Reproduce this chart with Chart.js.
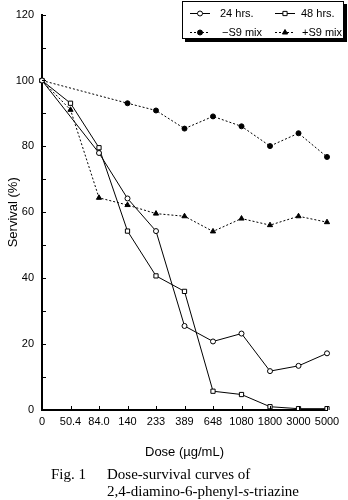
<!DOCTYPE html>
<html lang="en">
<head>
    <meta charset="UTF-8">
    <title>Dose-survival curves</title>
    <script src="https://cdn.jsdelivr.net/npm/chart.js"></script>
    <style>
        body {
            margin: 0;
            background: #ffffff;
        }
        #wrap {
            position: relative;
            width: 348px;
            height: 500px;
        }
        #caption {
            position: absolute;
            left: 51px;
            top: 466px;
            font-family: 'Liberation Serif', 'DejaVu Serif', serif;
            font-size: 15px;
            line-height: 17px;
            color: #000;
            white-space: nowrap;
        }
        #caption .fig {
            display: inline-block;
            width: 56px;
        }
        #caption .line2 {
            padding-left: 56px;
        }
    </style>
</head>
<body>
    <div id="wrap">
        <canvas id="myChart" width="348" height="500"></canvas>
        <div id="caption">
            <div><span class="fig">Fig. 1</span>Dose-survival curves of</div>
            <div class="line2">2,4-diamino-6-phenyl-<i>s</i>-triazine</div>
        </div>
    </div>

    <script>
        const doses = ['0', '50.4', '84.0', '140', '233', '389', '648', '1080', '1800', '3000', '5000'];
        const hrs24 = [100, null, 78.0, 64.2, 54.3, 25.5, 20.8, 23.2, 11.8, 13.4, 17.2];
        const hrs48 = [100, 93.1, 79.6, 54.3, 40.7, 36.0, 5.7, 4.7, 1.0, 0.4, 0.4];
        const minusS9 = [100, null, null, 93.1, 90.9, 85.4, 89.1, 86.1, 80.1, 84.0, 76.8];
        const plusS9 = [100, 91.1, 64.4, 62.2, 59.6, 58.8, 54.2, 58.1, 56.1, 58.8, 57.0];
        const seriesNames = ['24 hrs.', '48 hrs.', '\u2212S9 mix', '+S9 mix'];

        // inward tick marks on both axes
        const innerTicks = {
            id: 'innerTicks',
            afterDraw(chart) {
                const c = chart.ctx;
                const xs = chart.scales.x, ys = chart.scales.y;
                const area = chart.chartArea;
                c.save();
                c.strokeStyle = '#000';
                c.lineWidth = 1;
                c.beginPath();
                for (let v = 0; v <= 120; v += 10) {
                    const py = Math.round(ys.getPixelForValue(v)) + 0.5;
                    c.moveTo(area.left, py);
                    c.lineTo(area.left + 4, py);
                }
                for (let i = 0; i < doses.length; i++) {
                    const px = Math.round(xs.getPixelForValue(i)) + 0.5;
                    c.moveTo(px, area.bottom);
                    c.lineTo(px, area.bottom - 4);
                }
                c.stroke();
                c.restore();
            }
        };

        // boxed legend in the top right corner
        const boxLegend = {
            id: 'boxLegend',
            afterDraw(chart) {
                const c = chart.ctx;
                const x0 = 182, y0 = 1, w = 162, h = 38;
                c.save();
                c.fillStyle = '#000';
                c.fillRect(x0 + 3, y0 + 3, w, h);
                c.fillStyle = '#fff';
                c.fillRect(x0, y0, w, h);
                c.strokeStyle = '#000';
                c.lineWidth = 1;
                c.strokeRect(x0 + 0.5, y0 + 0.5, w - 1, h - 1);

                const spots = [[190, 13, 220], [275, 13, 301], [190, 32, 222], [275, 32, 302]];
                c.font = '11px "Liberation Sans", Arial, sans-serif';
                c.textBaseline = 'middle';
                chart.data.datasets.forEach((ds, i) => {
                    const [lx, ly, tx] = spots[i];
                    c.strokeStyle = '#000';
                    c.lineWidth = 1;
                    c.setLineDash(ds.borderDash || []);
                    c.beginPath();
                    c.moveTo(lx, ly + 0.5);
                    c.lineTo(lx + 20, ly + 0.5);
                    c.stroke();
                    c.setLineDash([]);
                    c.fillStyle = ds.pointBackgroundColor;
                    c.strokeStyle = '#000';
                    Chart.helpers.drawPoint(c, {
                        pointStyle: ds.pointStyle,
                        radius: ds.pointRadius,
                        borderWidth: 1
                    }, lx + 10, ly + 0.5);
                    c.fillStyle = '#000';
                    c.fillText(ds.label, tx, ly + 1);
                });
                c.restore();
            }
        };

        const ctx = document.getElementById('myChart').getContext('2d');
        const myChart = new Chart(ctx, {
            type: 'line',
            data: {
                labels: doses,
                datasets: [{
                    label: seriesNames[0],
                    data: hrs24,
                    borderColor: '#000',
                    borderWidth: 1,
                    pointStyle: 'circle',
                    pointRadius: 2.5,
                    pointBackgroundColor: '#fff',
                    pointBorderColor: '#000',
                    pointBorderWidth: 1
                }, {
                    label: seriesNames[1],
                    data: hrs48,
                    borderColor: '#000',
                    borderWidth: 1,
                    pointStyle: 'rect',
                    pointRadius: 3,
                    pointBackgroundColor: '#fff',
                    pointBorderColor: '#000',
                    pointBorderWidth: 1
                }, {
                    label: seriesNames[2],
                    data: minusS9,
                    borderColor: '#000',
                    borderWidth: 1,
                    borderDash: [2, 2],
                    pointStyle: 'circle',
                    pointRadius: 2.5,
                    pointBackgroundColor: '#000',
                    pointBorderColor: '#000',
                    pointBorderWidth: 1
                }, {
                    label: seriesNames[3],
                    data: plusS9,
                    borderColor: '#000',
                    borderWidth: 1,
                    borderDash: [2, 2],
                    pointStyle: 'triangle',
                    pointRadius: 3,
                    pointBackgroundColor: '#000',
                    pointBorderColor: '#000',
                    pointBorderWidth: 1
                }]
            },
            options: {
                responsive: false,
                animation: false,
                spanGaps: true,
                layout: {
                    padding: { top: 14, right: 21, left: 0, bottom: 0 }
                },
                plugins: {
                    legend: { display: false },
                    tooltip: { enabled: false }
                },
                scales: {
                    x: {
                        offset: false,
                        grid: { display: false, drawTicks: false },
                        border: { color: '#000', width: 2 },
                        ticks: {
                            color: '#000',
                            autoSkip: false,
                            maxRotation: 0,
                            padding: 5,
                            font: { family: '"Liberation Sans", Arial, sans-serif', size: 11 }
                        },
                        title: {
                            display: true,
                            text: 'Dose (\u00b5g/mL)',
                            color: '#000',
                            padding: { top: 0, bottom: 40 },
                            font: { family: '"Liberation Sans", Arial, sans-serif', size: 13 }
                        },
                        afterFit(scale) { scale.height = 90; }
                    },
                    y: {
                        min: 0,
                        max: 120,
                        grid: { display: false, drawTicks: false },
                        border: { color: '#000', width: 2 },
                        ticks: {
                            stepSize: 20,
                            color: '#000',
                            padding: 8,
                            font: { family: '"Liberation Sans", Arial, sans-serif', size: 11 }
                        },
                        title: {
                            display: true,
                            text: 'Servival (%)',
                            color: '#000',
                            padding: { top: 6, bottom: 0 },
                            font: { family: '"Liberation Sans", Arial, sans-serif', size: 13 }
                        },
                        afterFit(scale) { scale.width = 42; }
                    }
                }
            },
            plugins: [innerTicks, boxLegend]
        });
    </script>
</body>
</html>
